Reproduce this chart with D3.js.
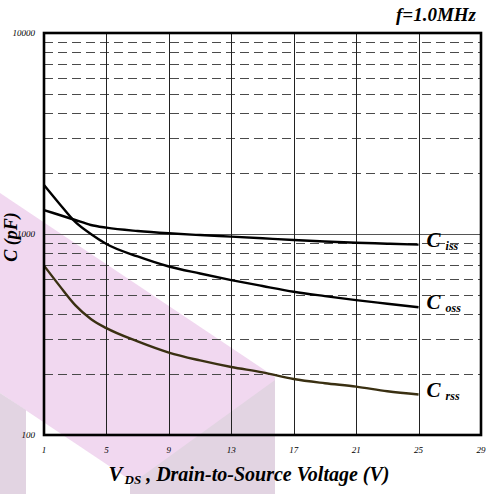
<!DOCTYPE html>
<html>
<head>
<meta charset="utf-8">
<script src="https://cdn.jsdelivr.net/npm/d3@7"></script>
<style>
  body { margin:0; background:#fff; }
  svg { display:block; }
  text { font-family:"Liberation Serif","Times New Roman",serif; }
</style>
</head>
<body>
<svg id="graph"></svg>
<script>
// capacitance vs drain-source voltage
var voltages=[1,2,3,4,5,7,9,11,13,15,17,19,21,23,25]
var ciss=[1316,1243,1174,1109,1075,1035,1008,988,970,952,934,918,905,895,885]
var coss=[1753,1411,1148,1000,892,773,689,636,590,551,516,491,469,450,432]
var crss=[696,552,443,378,340,292,257,235,218,205,190,181,174,165,159]
var xTicks=[1,5,9,13,17,21,25,29]
var yTicks=[100,1000,10000]

var screen={width:487,height:494}
var margins={left:44,right:6,top:33,bottom:59}
var graph={
    width:screen.width-margins.left-margins.right,
    height:screen.height-margins.top-margins.bottom
}

var svg=d3.select("#graph")
    .attr("width",screen.width)
    .attr("height",screen.height)

// faint watermark behind the chart
var drawWatermark=function()
    {
        var wm=svg.append("g")
        wm.append("polygon")
            .attr("points","0,193 275,377 275,494 151,494 0,393")
            .attr("fill","#f1d8f0")
        wm.append("polygon")
            .attr("points","0,393 26,410 26,494 0,494")
            .attr("fill","#e2d4e2")
        wm.append("polygon")
            .attr("points","130,485 275,380 275,494 130,494")
            .attr("fill","#e2d4e2")
    }

var xScale=d3.scaleLinear()
    .domain([1,29])
    .range([0,graph.width])
var yScale=d3.scaleLog()
    .domain([100,10000])
    .range([graph.height,0])

var drawGrid=function(target)
    {
        var minor=[]
        ;[100,1000].forEach(function(d)
            {
                for(var k=2;k<=9;k++){ minor.push(d*k) }
            })
        target.append("g")
            .selectAll("line")
            .data(minor)
            .enter()
            .append("line")
            .attr("x1",0)
            .attr("x2",graph.width)
            .attr("y1",function(d){ return Math.round(yScale(d))+0.5 })
            .attr("y2",function(d){ return Math.round(yScale(d))+0.5 })
            .attr("stroke","#4a4a4a")
            .attr("stroke-width",1.2)
            .attr("stroke-dasharray","9,5")
        target.append("line")
            .attr("x1",0)
            .attr("x2",graph.width)
            .attr("y1",Math.round(yScale(1000))+0.5)
            .attr("y2",Math.round(yScale(1000))+0.5)
            .attr("stroke","#555")
            .attr("stroke-width",1)
        target.append("g")
            .selectAll("line")
            .data(xTicks.slice(1,-1))
            .enter()
            .append("line")
            .attr("x1",function(d){ return Math.round(xScale(d))+0.5 })
            .attr("x2",function(d){ return Math.round(xScale(d))+0.5 })
            .attr("y1",0)
            .attr("y2",graph.height)
            .attr("stroke","#222")
            .attr("stroke-width",1)
    }

var drawLines=function(target)
    {
        var lineGenerator=function(values)
            {
                return d3.line()
                    .x(function(d,i){ return xScale(voltages[i]) })
                    .y(function(d){ return yScale(d) })
                    .curve(d3.curveMonotoneX)(values)
            }
        var series=[
            {name:"iss",values:ciss,color:"#000"},
            {name:"oss",values:coss,color:"#000"},
            {name:"rss",values:crss,color:"#3a3012"}
        ]
        target.append("g")
            .selectAll("path")
            .data(series)
            .enter()
            .append("path")
            .attr("d",function(s){ return lineGenerator(s.values) })
            .attr("fill","none")
            .attr("stroke",function(s){ return s.color })
            .attr("stroke-width",2.4)

        var labels=target.append("g")
            .selectAll("text")
            .data(series)
            .enter()
            .append("text")
            .attr("x",xScale(25)+8)
            .attr("y",function(s){ return yScale(s.values[s.values.length-1])+2 })
            .attr("font-weight","bold")
            .attr("font-style","italic")
        labels.append("tspan")
            .attr("font-size",21)
            .text("C")
        labels.append("tspan")
            .attr("font-size",12)
            .attr("dx",5)
            .attr("dy",3)
            .text(function(s){ return s.name })
    }

var drawAxes=function(target)
    {
        target.append("rect")
            .attr("x",0)
            .attr("y",0)
            .attr("width",graph.width)
            .attr("height",graph.height)
            .attr("fill","none")
            .attr("stroke","#000")
            .attr("stroke-width",2.6)

        target.append("g")
            .selectAll("text")
            .data(yTicks)
            .enter()
            .append("text")
            .attr("x",-9)
            .attr("y",function(d){ return yScale(d)+3 })
            .attr("text-anchor","end")
            .attr("font-size",9)
            .attr("font-style","italic")
            .text(function(d){ return d })

        target.append("g")
            .selectAll("text")
            .data(xTicks)
            .enter()
            .append("text")
            .attr("x",function(d){ return xScale(d) })
            .attr("y",graph.height+18)
            .attr("text-anchor","middle")
            .attr("font-size",9)
            .attr("font-style","italic")
            .text(function(d){ return d })
    }

var drawLabels=function()
    {
        svg.append("text")
            .attr("x",476)
            .attr("y",21)
            .attr("text-anchor","end")
            .attr("font-size",19)
            .attr("font-weight","bold")
            .attr("font-style","italic")
            .text("f=1.0MHz")

        svg.append("text")
            .attr("transform","translate(17,237) rotate(-90)")
            .attr("text-anchor","middle")
            .attr("font-size",18)
            .attr("font-weight","bold")
            .attr("font-style","italic")
            .text("C (pF)")

        var xl=svg.append("text")
            .attr("x",249)
            .attr("y",481)
            .attr("text-anchor","middle")
            .attr("font-weight","bold")
            .attr("font-style","italic")
        xl.append("tspan")
            .attr("font-size",21)
            .text("V")
        xl.append("tspan")
            .attr("font-size",13)
            .attr("dx",2)
            .attr("dy",3)
            .text("DS")
        xl.append("tspan")
            .attr("font-size",20)
            .attr("dy",-3)
            .text(" , Drain-to-Source Voltage (V)")
    }

drawWatermark()
var canvas=svg.append("g")
    .attr("transform","translate("+margins.left+","+margins.top+")")
drawGrid(canvas)
drawLines(canvas)
drawAxes(canvas)
drawLabels()
</script>
</body>
</html>
